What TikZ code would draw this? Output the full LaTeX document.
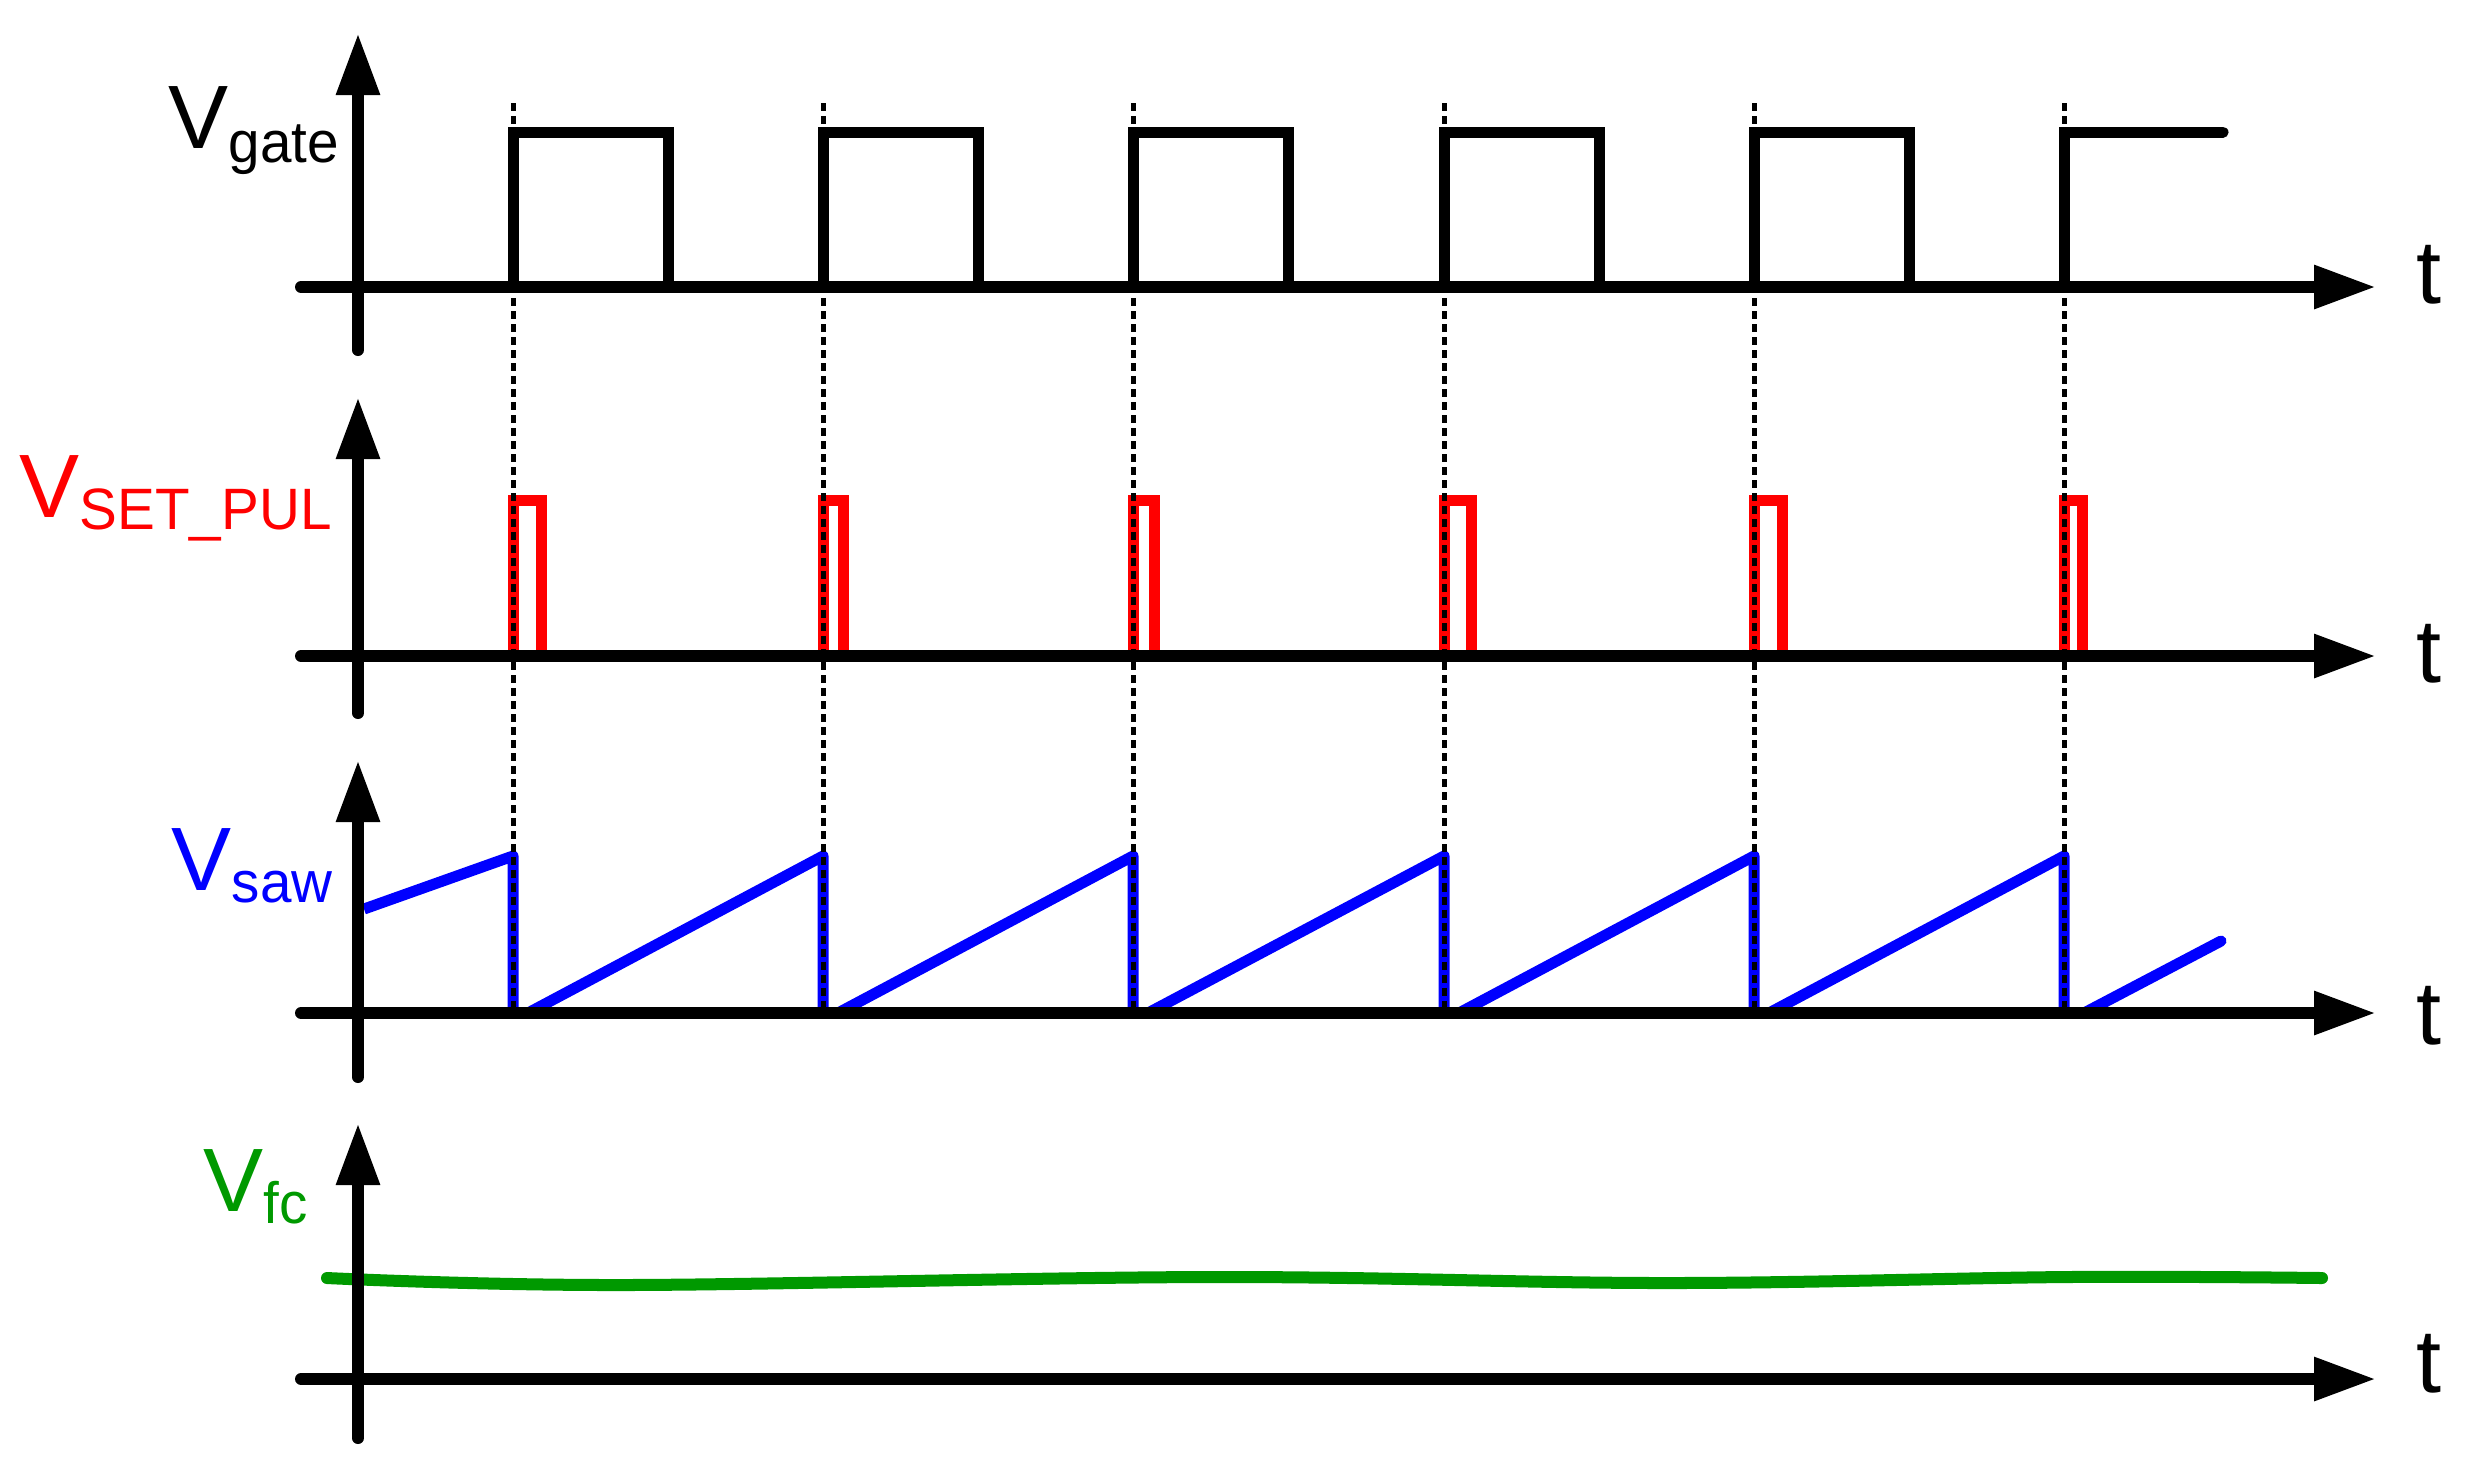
\documentclass[tikz,border=0pt]{standalone}
\usepackage{fontspec}
\setmainfont{Liberation Sans}
\usetikzlibrary{arrows.meta}
\definecolor{sigred}{RGB}{255,0,0}
\definecolor{sigblue}{RGB}{0,0,255}
\definecolor{siggreen}{RGB}{0,153,0}
\newcommand\sublbl[2]{\raisebox{-#1}{\addfontfeatures{FakeStretch=0.97}\fontsize{16.6pt}{20pt}\selectfont #2}}

\begin{document}
\begin{tikzpicture}[x=0.01cm,y=-0.01cm,
  axisline/.style={line width=0.12cm, black, line cap=round},
  axisarrow/.style={axisline, -{Triangle[length=0.62cm,width=0.41cm]}},
  sig/.style={line width=0.11cm},
  guide/.style={line width=0.05cm, dash pattern=on 0.08cm off 0.05cm},
  lbl/.style={inner sep=0pt, anchor=base west, font=\fontsize{25.6pt}{30pt}\selectfont},
]
\path[use as bounding box] (0,0) rectangle (2489,1472);

% gate signal
\foreach \d in {513,823,1133,1444,1754}
  \draw[sig] (\d,287) -- (\d,132) -- ({\d+155},132) -- ({\d+155},287);
\draw[sig, line cap=round] (2064,287) -- (2064,132) -- (2223,132);

% set pulse
\foreach \d/\w in {513/28,823/20,1133/21,1444/27,1754/28,2064/18}
  \draw[sig, sigred] (\d,656) -- (\d,500) -- ({\d+\w},500) -- ({\d+\w},656);

% sawtooth
\draw[sig, sigblue, line join=round] (364,909) -- (513,856) -- (513,1013);
\foreach \a/\b in {513/823,823/1133,1133/1444,1444/1754,1754/2064}
  \draw[sig, sigblue, line join=round] ({\a+15},1013) -- (\b,856) -- (\b,1013);
\draw[sig, sigblue, line cap=round] (2084,1013) -- (2221,941);

% fc
\draw[siggreen, line width=0.12cm, line cap=round] plot[smooth, tension=0.6]
  coordinates {(327,1278) (621,1285) (1211,1277) (1666,1283) (2068,1277) (2322,1278)};

% axes
\foreach \y/\tp/\bt in {287/33/350, 656/397/713, 1013/760/1077, 1379/1123/1438} {
  \draw[axisarrow] (301,\y) -- (2376,\y);
  \draw[axisarrow] (358,\bt) -- (358,\tp);
}

% guides
\foreach \d in {513,823,1133,1444,1754,2064}
  \draw[guide] (\d,103) -- (\d,1013);

% labels
\node[lbl] (vgate) at (168,148) {V\sublbl{3.98pt}{gate}};
\node[lbl, text=sigred] (vset) at (19,517) {V\sublbl{3.41pt}{SET\_PUL}};
\node[lbl, text=sigblue] (vsaw) at (171,890) {V\sublbl{3.41pt}{saw}};
\node[lbl, text=siggreen] (vfc) at (203,1211) {V\sublbl{3.41pt}{fc}};

\node[lbl] (t1) at (2416,303) {t};
\node[lbl] (t2) at (2416,682) {t};
\node[lbl] (t3) at (2416,1044) {t};
\node[lbl] (t4) at (2416,1392) {t};
\end{tikzpicture}
\end{document}
